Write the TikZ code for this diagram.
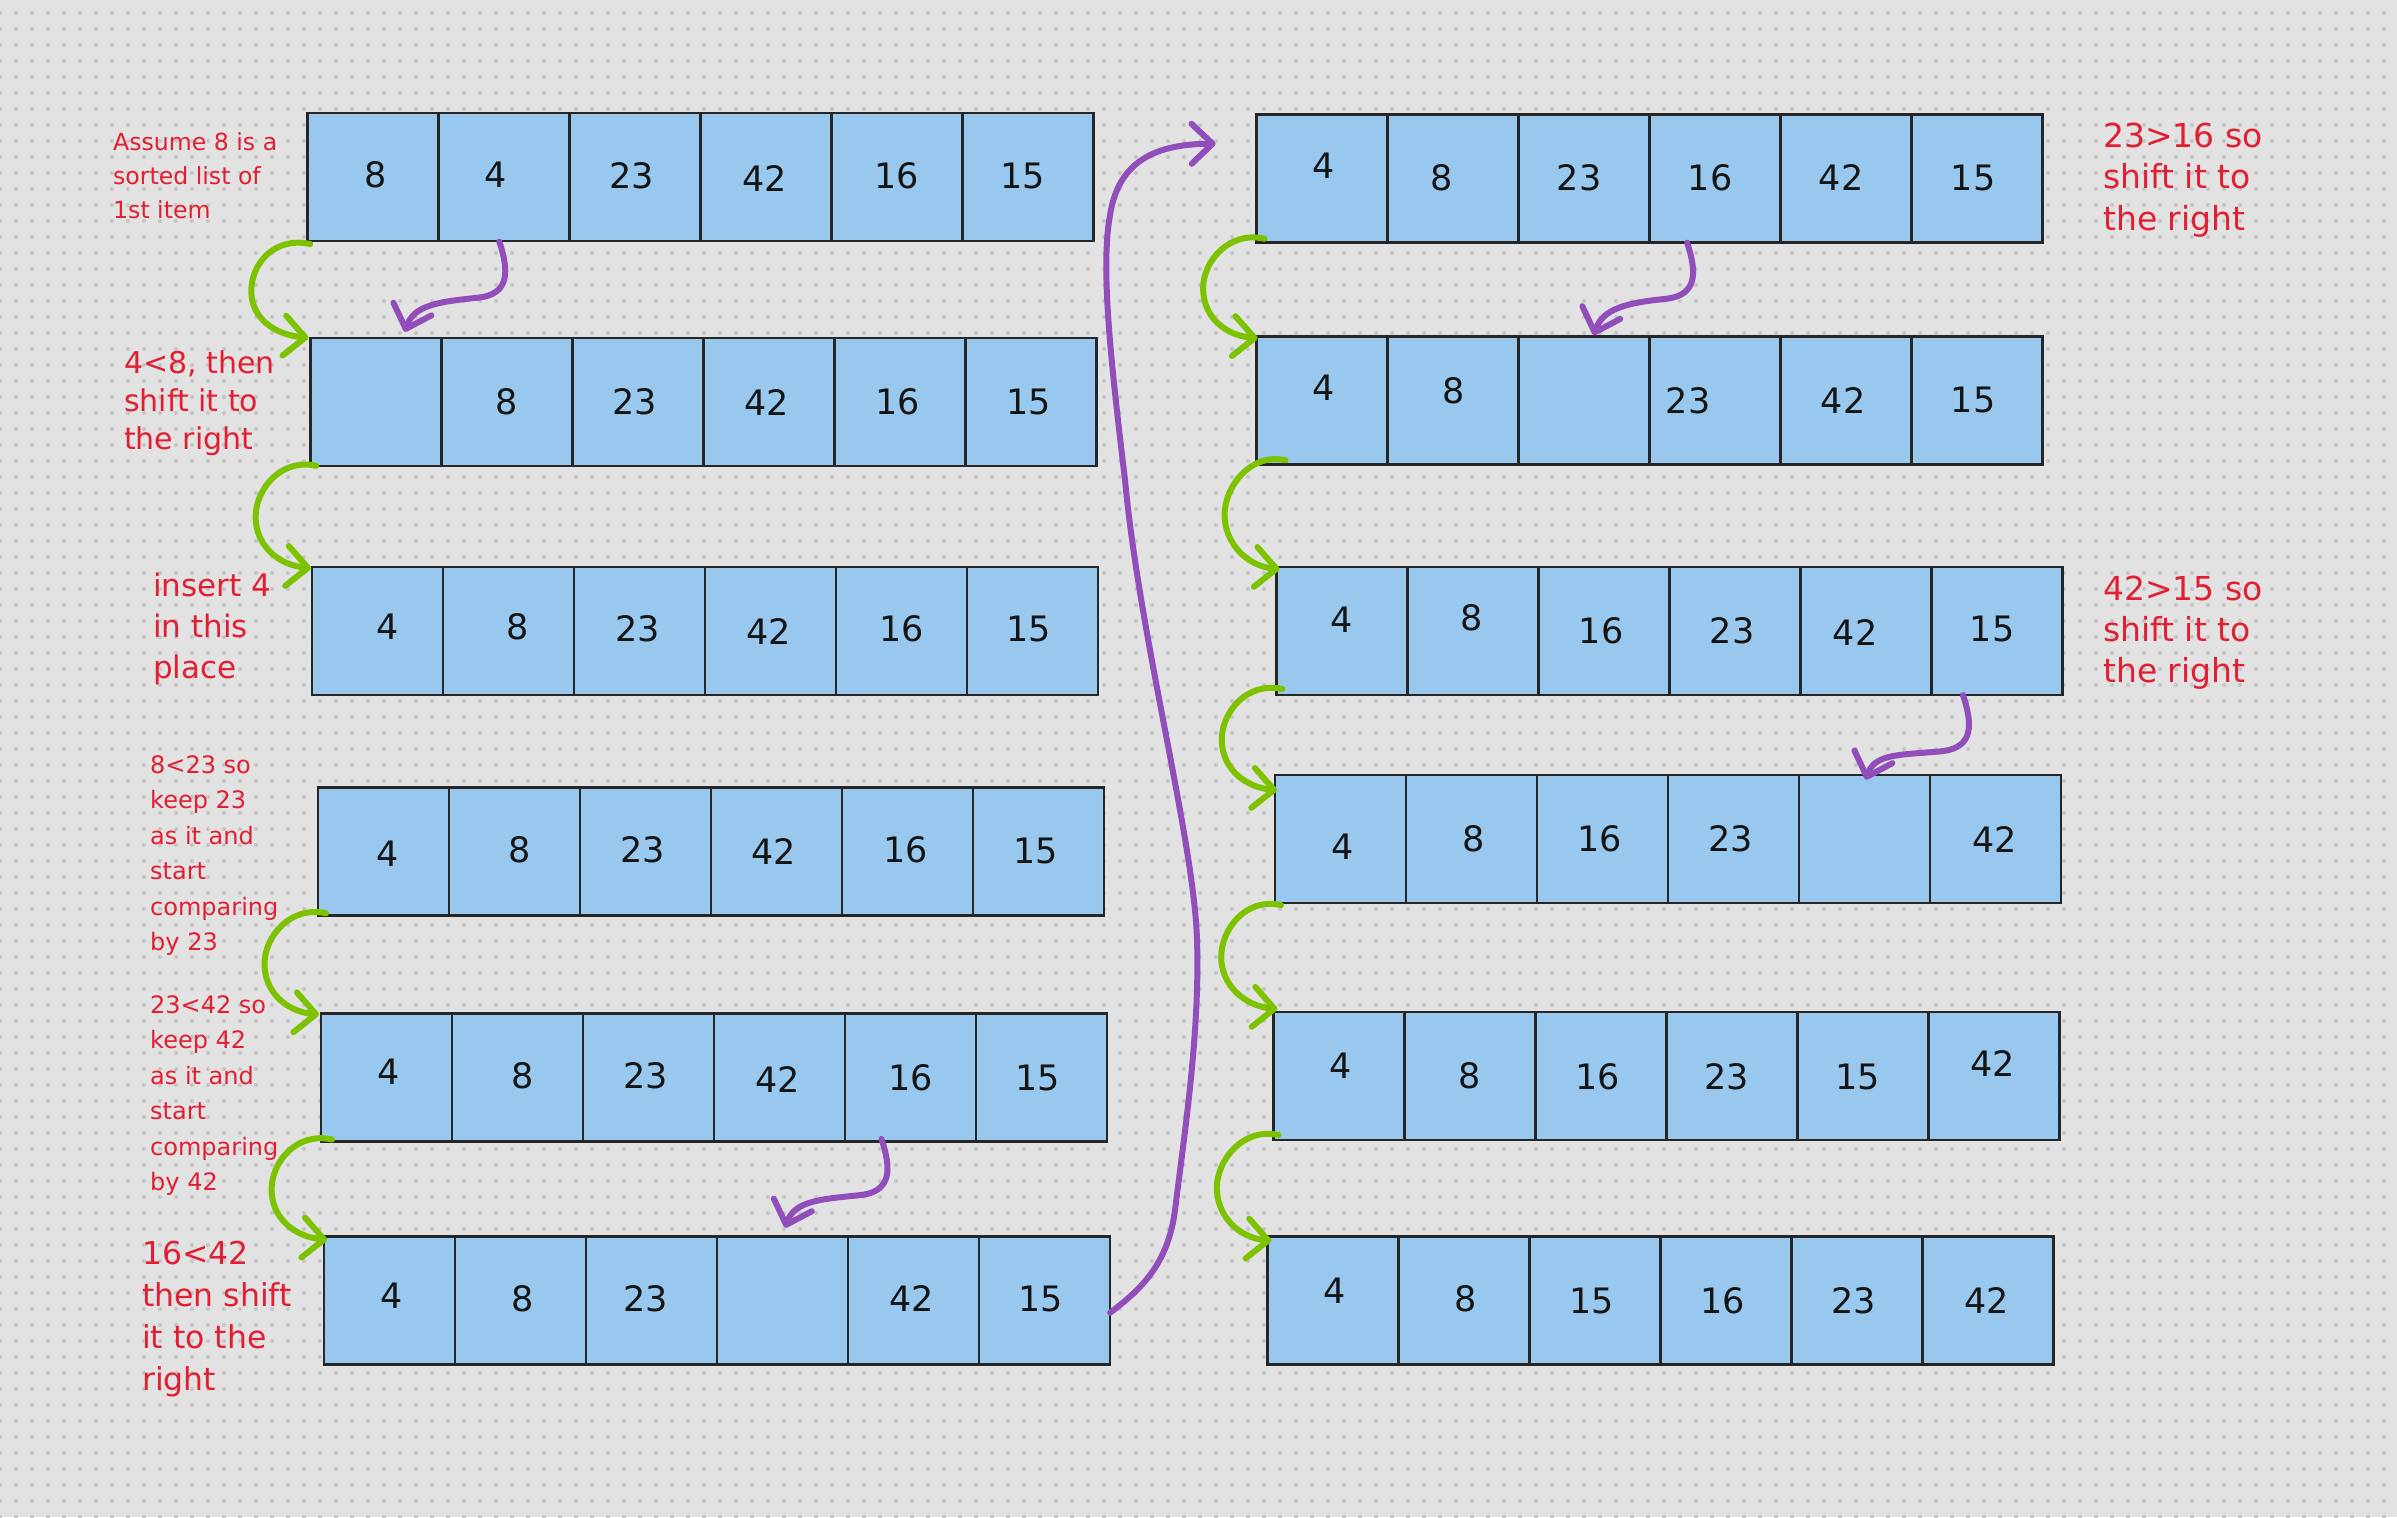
\documentclass[tikz,border=0pt]{standalone}
\usepackage{fontspec}
\setmainfont{DejaVu Sans}
\usetikzlibrary{arrows.meta,calc,patterns.meta}
\definecolor{bgc}{RGB}{226,226,226}
\definecolor{dotc}{RGB}{198,198,198}
\definecolor{cellc}{RGB}{153,200,238}
\definecolor{edgec}{RGB}{38,38,38}
\definecolor{redc}{RGB}{225,30,50}
\definecolor{greenc}{RGB}{124,194,0}
\definecolor{purplec}{RGB}{145,78,187}
\definecolor{numc}{RGB}{20,20,20}
\tikzset{
  cell/.style={draw=edgec, line width=2.5pt, fill=cellc, minimum width=131pt,
    minimum height=128pt, inner sep=0pt, outer sep=0pt},
  num/.style={text=numc, font=\fontsize{35}{42}\selectfont, inner sep=0pt},
  lbl/.style={text=redc, inner sep=0pt, anchor=base west},
  garrow/.style={draw=greenc, line width=6pt, line cap=round, line join=round,
    -{Straight Barb[length=21pt,width=40pt,line cap=round,line join=round]}},
  parrow/.style={draw=purplec, line width=6pt, line cap=round, line join=round,
    -{Straight Barb[length=21pt,width=40pt,line cap=round,line join=round]}},
}
\newcommand\cellrow[4]{%
  \foreach \cv/\ox/\oy [count=\i] in {#4} {
    \node[cell] (#1c\i) at ({#2+(\i-0.5)*131},{#3+64}) {};
    \node[num] (#1n\i) at ([shift={(\ox,\oy)}]#1c\i.center) {\cv};
  }%
}
\newcommand\redlabel[6]{%
  \foreach \l [count=\k] in {#6} {
    \node[lbl, font=\fontsize{#5}{#5}\selectfont] (#1\k) at (#2,{#3+(\k-1)*#4}) {\l};
  }%
}
\newcommand\grnarr[3]{%
  \coordinate (#1s) at #2;
  \coordinate (#1t) at #3;
  \coordinate (#1m) at ($(#1s)!0.5!(#1t)+(-58,0)$);
  \draw[garrow] (#1s) .. controls ($(#1s)+(-35,-8)$) and ($(#1m)+(0,-28)$) .. (#1m)
    .. controls ($(#1m)+(0,28)$) and ($(#1t)+(-33,-3)$) .. (#1t);
}
\newcommand\purarr[3]{%
  \coordinate (#1s) at #2;
  \coordinate (#1t) at #3;
  \draw[parrow] (#1s) .. controls ($(#1s)+(10,30)$) and ($(#1s)+(10,52)$) .. ($(#1s)+(-20,56)$)
    .. controls ($(#1s)+(-60,60)$) and ($(#1t)+(9,-27)$) .. (#1t);
}
\begin{document}
\begin{tikzpicture}[x=1pt,y=-1pt]
\useasboundingbox (0,0) rectangle (2397,1517);
\fill[bgc] (0,0) rectangle (2397,1517);
\fill[pattern={Dots[distance=16pt,radius=2.1pt]}, pattern color=dotc] (0,0) rectangle (2397,1517);

% left column
\cellrow{L1}{307.3}{113.1}{8/3/-2, 4/-8/-2, 23/-3/-1, 42/-1/1, 16/0/-1, 15/-5/-1}
\cellrow{L2}{310.3}{337.8}{{}/0/0, 8/0/0, 23/-3/0, 42/-2/1, 16/-2/0, 15/-2/0}
\cellrow{L3}{311.9}{567.1}{4/10/-4, 8/9/-4, 23/-2/-2, 42/-2/0, 16/0/-2, 15/-4/-2}
\cellrow{L4}{318.0}{787.3}{4/4/2, 8/5/-2, 23/-3/-2, 42/-3/0, 16/-2/-2, 15/-3/0}
\cellrow{L5}{321.0}{1013.5}{4/2/-6, 8/5/-2, 23/-3/-2, 42/-2/2, 16/0/0, 15/-4/0}
\cellrow{L6}{324.1}{1236.7}{4/2/-5, 8/2/-2, 23/-6/-2, {}/0/0, 42/-2/-2, 15/-4/-2}
% right column
\cellrow{R1}{1256.6}{114.7}{4/2/-13, 8/-11/-1, 23/-5/-1, 16/-5/-1, 42/-5/-1, 15/-4/-1}
\cellrow{R2}{1256.6}{336.3}{4/2/-13, 8/1/-10, {}/0/0, 23/-27/0, 42/-3/0, 15/-4/0}
\cellrow{R3}{1276.5}{567.1}{4/0/-11, 8/-1/-13, 16/-3/0, 23/-3/0, 42/-11/1, 15/-5/-2}
\cellrow{R4}{1275.0}{775.1}{4/2/8, 8/2/0, 16/-3/0, 23/-3/0, {}/0/0, 42/-1/0}
\cellrow{R5}{1273.4}{1012.0}{4/2/-10, 8/0/0, 16/-3/1, 23/-5/1, 15/-5/1, 42/-1/-13}
\cellrow{R6}{1267.3}{1236.7}{4/2/-10, 8/2/-2, 15/-3/0, 16/-3/0, 23/-3/0, 42/-1/0}

% red labels
\redlabel{la}{113}{151}{33.6}{23.6}{{Assume 8 is a},{sorted list of},{1st item}}
\redlabel{lb}{124}{373}{38}{30}{{4<8, then},{shift it to},{the right}}
\redlabel{lc}{153}{596}{41}{31}{{insert 4},{in this},{place}}
\redlabel{ld}{150}{773}{35.5}{24}{{8<23 so},{keep 23},{as it and},{start},{comparing},{by 23}}
\redlabel{le}{150}{1013}{35.5}{24}{{23<42 so},{keep 42},{as it and},{start},{comparing},{by 42}}
\redlabel{lf}{142}{1264}{42}{31.5}{{16<42},{then shift},{it to the},{right}}
\redlabel{lg}{2103}{148}{41}{33}{{23>16 so},{shift it to},{the right}}
\redlabel{lh}{2103}{600}{41}{33}{{42>15 so},{shift it to},{the right}}

% green arrows
\grnarr{ga}{([shift={(3,3)}]L1c1.south west)}{([shift={(-2,0)}]L2c1.north west)}
\grnarr{gb}{([shift={(6,0)}]L2c1.south west)}{([shift={(-1,1)}]L3c1.north west)}
\grnarr{gc}{([shift={(8,-2)}]L4c1.south west)}{([shift={(-2,1)}]L5c1.north west)}
\grnarr{gd}{([shift={(11,-2)}]L5c1.south west)}{([shift={(3,3)}]L6c1.north west)}
\grnarr{ge}{([shift={(8,-4)}]R1c1.south west)}{([shift={(1,2)}]R2c1.north west)}
\grnarr{gf}{([shift={(29,-4)}]R2c1.south west)}{([shift={(3,2)}]R3c1.north west)}
\grnarr{gg}{([shift={(6,-6)}]R3c1.south west)}{([shift={(2,15)}]R4c1.north west)}
\grnarr{gh}{([shift={(6,2)}]R4c1.south west)}{([shift={(4,-3)}]R5c1.north west)}
\grnarr{gi}{([shift={(5,-5)}]R5c1.south west)}{([shift={(4,4)}]R6c1.north west)}

% purple hook arrows
\purarr{pa}{([shift={(-4.5,0.5)}]L1c2.south)}{([shift={(29,-6)}]L2c1.north)}
\purarr{pb}{([shift={(-29,-2.5)}]L5c5.south)}{([shift={(2.6,-9)}]L6c4.north)}
\purarr{pc}{([shift={(-28,0)}]R1c4.south)}{([shift={(9.6,-1)}]R2c3.north)}
\purarr{pd}{([shift={(-34,0)}]R3c6.south)}{([shift={(1.3,4.5)}]R4c5.north)}

% long purple arrow
\coordinate (lS) at ([shift={(0,12)}]L6c6.east);
\coordinate (lT) at ([shift={(-41,-35)}]R1c1.west);
\draw[parrow] (lS) .. controls (1140,1290) and (1168,1265) .. (1175,1210)
  .. controls (1185,1130) and (1200,1030) .. (1197,940)
  .. controls (1194,840) and (1140,640) .. (1125,480)
  .. controls (1112,370) and (1100,270) .. (1110,215)
  .. controls (1118,165) and (1150,144) .. (lT);
\end{tikzpicture}
\end{document}
